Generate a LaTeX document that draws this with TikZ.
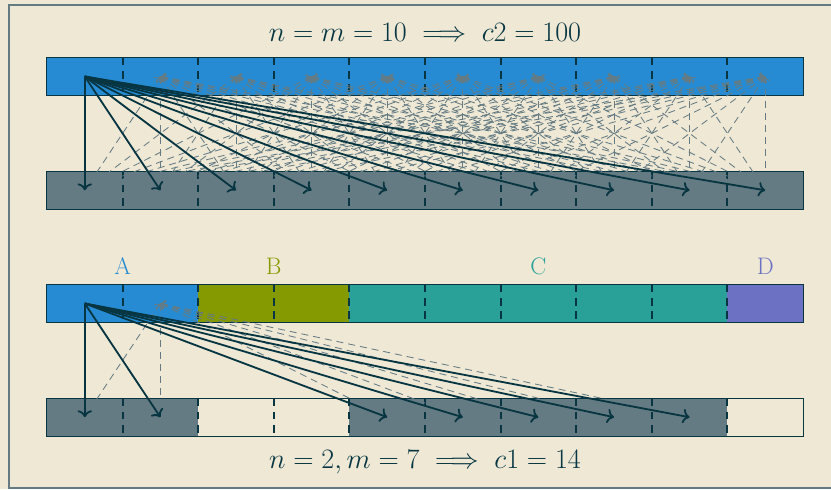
\RequirePackage{fix-cm}
\documentclass[tikz,border=0pt]{standalone}
\usepackage{amsmath}
\usepackage{xcolor,tikz}
\usetikzlibrary{arrows.meta,positioning}
\definecolor{SolBack}{HTML}{EEE8D5}
\definecolor{SolDark}{HTML}{073642}
\definecolor{SolGray}{HTML}{657B83}
\definecolor{SolBlue}{HTML}{268BD2}
\definecolor{SolGreen}{HTML}{859900}
\definecolor{SolCyan}{HTML}{2AA198}
\definecolor{SolViolet}{HTML}{6C71C4}
\tikzset{>={To[scale=1.1]},cell/.style={minimum width=1.89cm,minimum height=0.95cm,
 inner sep=0,outer sep=0},bar/.style={draw=SolDark,line width=.7pt},
 divider/.style={draw=SolDark,line width=1.5pt,dash pattern=on 5.5pt off 4pt},
 hop/.style={draw=SolDark,line width=1.3pt,->},
 probe/.style={draw=SolGray,line width=.6pt,dash pattern=on 5pt off 3.5pt,<-},
 caption/.style={text=SolDark,font=\fontsize{20}{24}\selectfont},
 tag/.style={inner sep=0,font=\fontsize{17}{20}\selectfont}}
\begin{document}
\begin{tikzpicture}[x=0.025cm,y=-0.025cm]
\fill[SolBack] (0,0) rectangle (831,489);
\useasboundingbox (0,0) rectangle (831,489);
\draw[SolGray,line width=1pt] (832,5)--(9,5)--(9,488)--(832,488);
\node[caption] (head) at (425,32) {$n=m=10\implies c2=100$};
\node[caption] (foot) at (425,462) {$n=2,m=7\implies c1=14$};
\foreach \i in {0,...,9} {
 \node[cell,fill=SolBlue] (a\i) at (84.8+75.6*\i,76.5) {};
 \node[cell,fill=SolGray] (b\i) at (84.8+75.6*\i,190.3) {};
}
\foreach \i/\c/\e in {0/SolBlue/SolGray,1/SolBlue/SolGray,2/SolGreen/SolBack,
 3/SolGreen/SolBack,4/SolCyan/SolGray,5/SolCyan/SolGray,6/SolCyan/SolGray,
 7/SolCyan/SolGray,8/SolCyan/SolGray,9/SolViolet/SolBack} {
 \node[cell,fill=\c] (c\i) at (84.8+75.6*\i,303.5) {};
 \node[cell,fill=\e] (d\i) at (84.8+75.6*\i,417.2) {};
}
\foreach \r in {a,b,c,d} {
 \draw[bar] (\r0.north west) rectangle (\r9.south east);
 \foreach \i in {1,...,9} \draw[divider] (\r\i.north west)--(\r\i.south west);
}
\node[tag,text=SolBlue,above=0.24cm of c0.north east] (labA) {A};
\node[tag,text=SolGreen,above=0.24cm of c2.north east] (labB) {B};
\node[tag,text=SolCyan,above=0.24cm of c6.north] (labC) {C};
\node[tag,text=SolViolet,above=0.24cm of c9.north] (labD) {D};
\foreach \i in {1,...,9} \foreach \j in {0,...,9} \draw[probe] (a\i.center)--(b\j.center);
\foreach \j in {0,...,9} \draw[hop] (a0.center)--(b\j.center);
\foreach \j in {0,1,4,5,6,7,8} {
 \draw[probe] (c1.center)--(d\j.center);
 \draw[hop] (c0.center)--(d\j.center);
}
\end{tikzpicture}
\end{document}
